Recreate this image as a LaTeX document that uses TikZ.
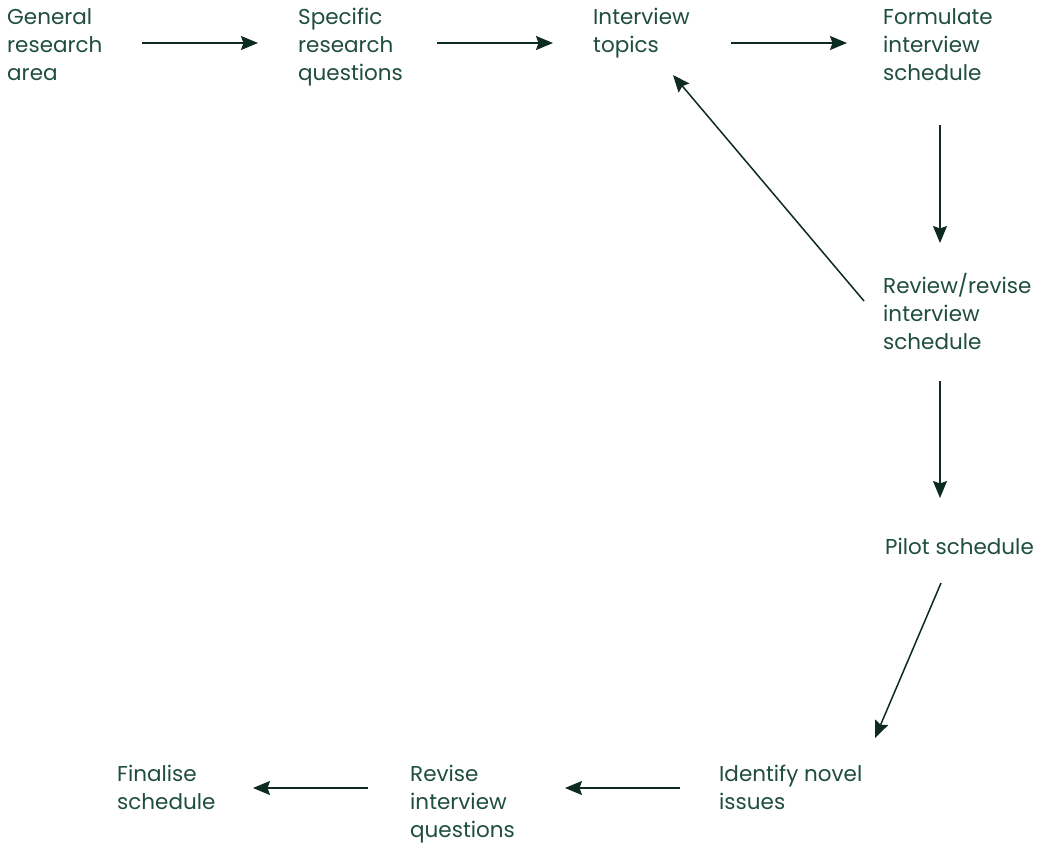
\documentclass[tikz,border=0pt]{standalone}
\usepackage{fontspec}
\setmainfont{Poppins}
\usetikzlibrary{arrows.meta}
\definecolor{txt}{HTML}{1F4E3D}
\definecolor{arr}{HTML}{0D2B1F}
\begin{document}
\begin{tikzpicture}[x=1pt,y=-1pt,
  lbl/.style={anchor=north west,inner sep=0pt,align=left,text=txt,
    font=\fontsize{21.5}{28}\selectfont},
  conn/.style={draw=arr,line width=1.5pt,-{Stealth[length=17pt,width=14pt,inset=2.5pt]}}]
\useasboundingbox[fill=white] (0,0) rectangle (1045,844);
\node[lbl] (gen) at (7,8) {General\\research\\area};
\node[lbl] (spe) at (298,8) {Specific\\research\\questions};
\node[lbl] (top) at (593,8) {Interview\\topics};
\node[lbl] (for) at (883,8) {Formulate\\interview\\schedule};
\node[lbl] (rev) at (883,273) {Review/revise\\interview\\schedule};
\node[lbl] (pil) at (885,538) {Pilot schedule};
\node[lbl] (ide) at (719,765) {Identify novel\\issues};
\node[lbl] (riq) at (410,765) {Revise\\interview\\questions};
\node[lbl] (fin) at (117,765) {Finalise\\schedule};
\path[conn] (gen.north west) ++(135,35) -- ([shift={(-40,35)}]spe.north west);
\path[conn] (spe.north west) ++(139,35) -- ([shift={(-40,35)}]top.north west);
\path[conn] (top.north west) ++(138,35) -- ([shift={(-36,35)}]for.north west);
\path[conn] (for.north west) ++(57,117) -- ([shift={(57,-30)}]rev.north west);
\path[conn] (rev.north west) ++(-19,28) -- ([shift={(80,67)}]top.north west);
\path[conn] (rev.north west) ++(57,108) -- ([shift={(55,-40)}]pil.north west);
\path[conn] (pil.north west) ++(56,45) -- ([shift={(156,-27)}]ide.north west);
\path[conn] (ide.north west) ++(-39,23) -- ([shift={(155,23)}]riq.north west);
\path[conn] (riq.north west) ++(-42,23) -- ([shift={(136,23)}]fin.north west);
\end{tikzpicture}
\end{document}
